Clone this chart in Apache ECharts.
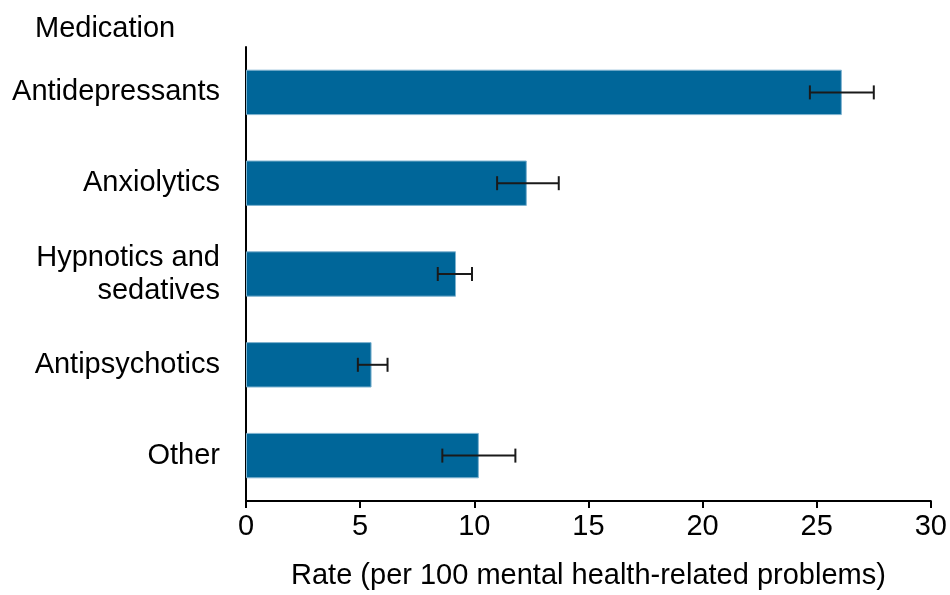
<!DOCTYPE html>
<html>
<head>
<meta charset="utf-8">
<script src="https://cdn.jsdelivr.net/npm/echarts@6/dist/echarts.min.js"></script>
<style>
  html, body { margin: 0; padding: 0; background: #fff; }
  #chart { width: 950px; height: 595px; }
</style>
</head>
<body>
<div id="chart"></div>
<script>
const categories = ['Antidepressants', 'Anxiolytics', 'Hypnotics and\nsedatives', 'Antipsychotics', 'Other'];
const rates = [26.1, 12.3, 9.2, 5.5, 10.2];
const lowerCI = [24.7, 11.0, 8.4, 4.9, 8.6];
const upperCI = [27.5, 13.7, 9.9, 6.2, 11.8];
const xTicks = [0, 5, 10, 15, 20, 25, 30];

let chart = echarts.init(document.getElementById('chart'));

let errData = categories.map((c, i) => [i, lowerCI[i], upperCI[i]]);

let option = {
  backgroundColor: '#fff',
  animation: false,
  textStyle: { fontFamily: 'Liberation Sans, Arial, sans-serif' },
  title: {
    text: 'Medication',
    left: 30,
    top: 9,
    textStyle: { fontSize: 29, fontWeight: 'normal', color: '#000', fontFamily: 'Liberation Sans, Arial, sans-serif' }
  },
  grid: { left: 246, right: 14, top: 47, bottom: 93 },
  xAxis: {
    type: 'value',
    min: xTicks[0],
    max: xTicks[xTicks.length - 1],
    interval: 5,
    name: 'Rate (per 100 mental health-related problems)',
    nameLocation: 'middle',
    nameGap: 60,
    nameTextStyle: { fontSize: 29, color: '#000' },
    axisLine: { show: true, lineStyle: { color: '#000', width: 2 } },
    axisTick: { show: true, length: 7, lineStyle: { color: '#000', width: 2 } },
    axisLabel: { fontSize: 29, color: '#000', margin: 11 },
    splitLine: { show: false }
  },
  yAxis: {
    type: 'category',
    inverse: true,
    data: categories,
    axisLine: { show: true, lineStyle: { color: '#000', width: 2 } },
    axisTick: { show: false },
    axisLabel: { fontSize: 29, color: '#000', margin: 26, lineHeight: 33, align: 'right', padding: [4, 0, 0, 0] }
  },
  series: [
    {
      type: 'bar',
      data: rates,
      barWidth: '50%',
      itemStyle: { color: '#006699', borderColor: '#7fb3d0', borderWidth: 1 }
    },
    {
      type: 'custom',
      data: errData,
      z: 10,
      renderItem: function (params, api) {
        let idx = api.value(0);
        let lo = api.coord([api.value(1), idx]);
        let hi = api.coord([api.value(2), idx]);
        let y = lo[1];
        let h = 7;
        let style = { stroke: '#1a1a1a', lineWidth: 2 };
        return {
          type: 'group',
          children: [
            { type: 'line', shape: { x1: lo[0], y1: y, x2: hi[0], y2: y }, style: style },
            { type: 'line', shape: { x1: lo[0], y1: y - h, x2: lo[0], y2: y + h }, style: style },
            { type: 'line', shape: { x1: hi[0], y1: y - h, x2: hi[0], y2: y + h }, style: style }
          ]
        };
      }
    }
  ]
};

chart.setOption(option);
</script>
</body>
</html>
